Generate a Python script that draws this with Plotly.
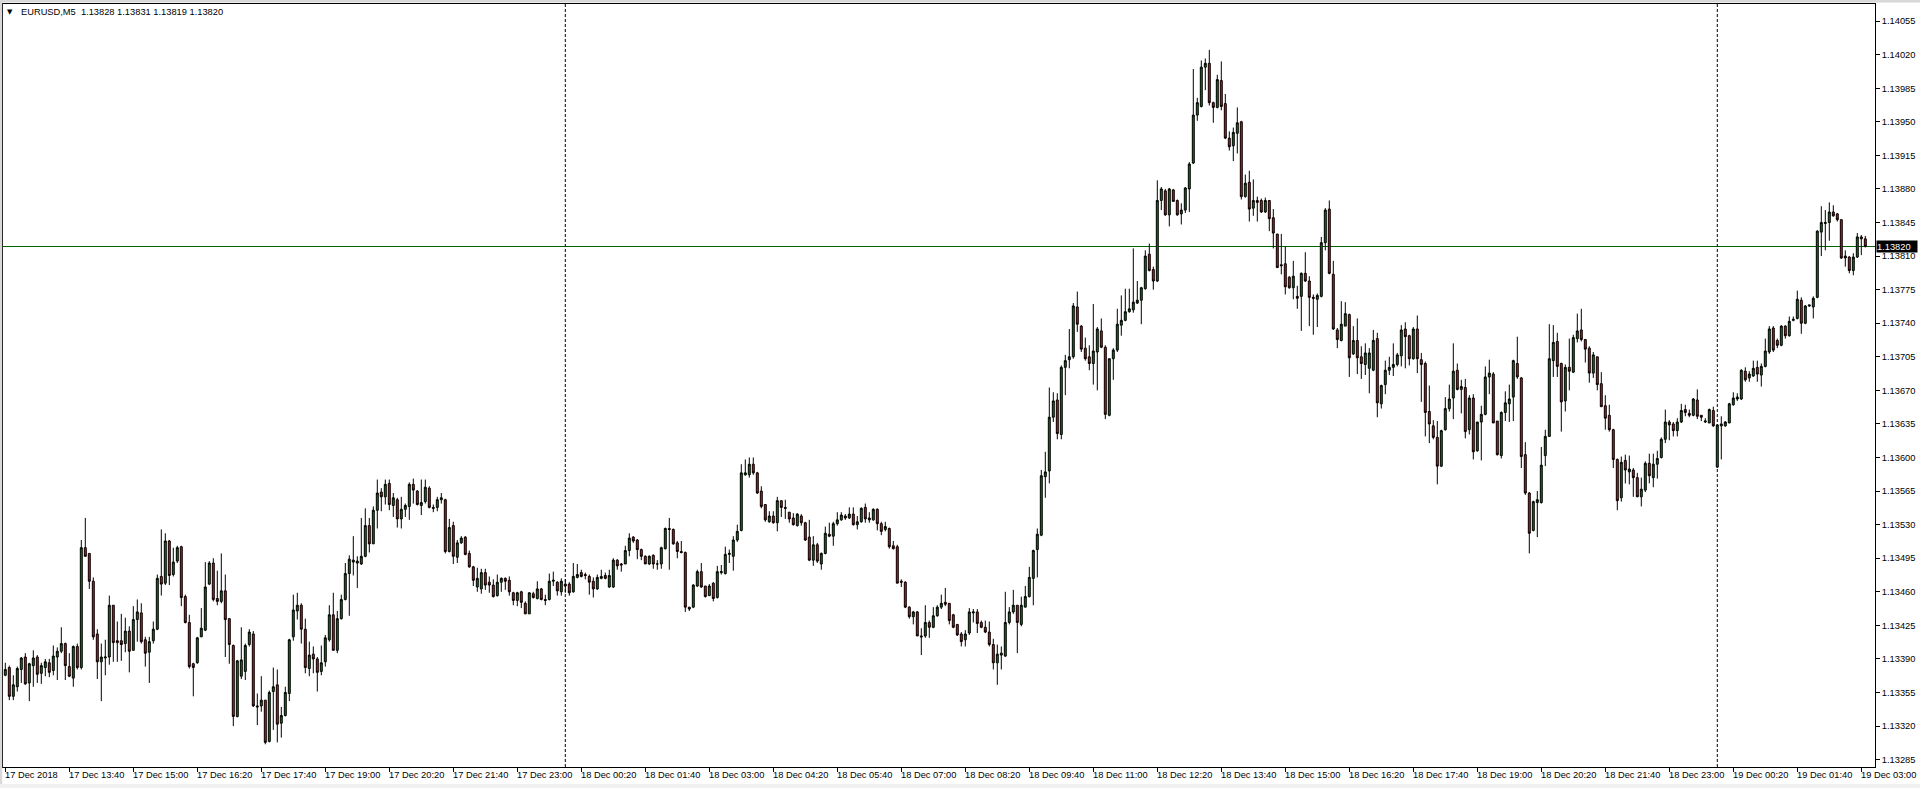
import pandas as pd
import plotly.graph_objects as go

# ---------------- data (prices stored in points of 0.00001 above PRICE_BASE) ----------------
SYMBOL_TITLE = "EURUSD,M5  1.13828 1.13831 1.13819 1.13820"
PRICE_BASE = 1.13
POINT = 0.00001
START_TIME = "2018-12-17 12:20"
BAR_MINUTES = 5

OPEN_PTS = [
    373,381,351,361,379,392,365,383,392,375,381,386,378,392,398,406,382,370,403,381,
    506,500,471,416,387,391,392,446,409,409,406,419,399,431,438,410,397,409,421,476,
    469,513,478,492,507,455,428,385,386,413,420,468,490,453,450,461,432,404,330,372,
    377,405,416,341,341,347,304,356,363,323,331,354,413,440,446,421,380,395,390,377,
    387,410,436,399,432,452,479,491,492,489,497,529,510,545,564,559,573,550,556,536,
    546,549,572,565,550,554,568,548,548,556,556,502,529,496,511,517,500,486,465,463,
    480,470,467,456,470,474,472,459,451,460,448,437,458,453,463,452,452,471,470,460,
    468,468,460,475,480,478,476,471,463,474,477,465,465,493,489,489,503,517,514,504,
    497,489,498,489,489,505,526,525,511,502,501,444,444,466,481,466,456,469,454,480,
    479,499,497,514,524,582,582,593,584,565,551,533,539,532,555,548,543,537,529,539,
    532,517,493,509,489,500,520,518,531,535,539,537,541,530,533,548,537,535,546,531,
    525,526,508,507,471,470,444,434,439,414,414,428,423,435,444,449,448,436,426,416,
    410,417,438,439,428,423,418,405,386,394,393,428,439,446,426,444,455,474,504,519,
    580,586,642,660,624,694,702,705,757,737,714,705,698,710,732,715,644,703,712,738,
    743,752,754,761,764,776,812,796,784,868,878,853,879,868,854,858,880,907,957,966,
    1007,1011,970,965,993,969,933,925,938,950,872,887,860,868,868,856,868,850,833,801,
    802,788,777,768,768,792,784,767,765,768,824,859,791,733,722,737,749,708,722,705,
    697,693,691,724,656,676,691,694,697,706,734,727,703,734,702,698,648,633,621,591,
    629,651,662,691,671,673,629,662,607,637,645,684,687,638,602,647,656,663,698,683,
    603,563,524,553,553,602,622,701,721,698,659,694,689,724,733,723,714,688,705,677,
    654,644,629,598,558,597,585,587,579,559,566,594,579,593,600,619,637,635,628,637,
    650,646,644,660,644,637,636,649,590,633,633,636,655,661,661,690,683,685,694,686,
    695,710,735,722,717,737,727,743,745,764,740,758,757,767,835,844,845,856,854,848,
    810,809,795,809,830,828,
]
HIGH_PTS = [
    386,383,373,382,392,396,386,399,394,386,390,390,404,402,423,407,396,404,406,514,
    537,500,475,421,406,410,456,446,429,437,433,424,445,452,448,413,413,429,478,525,
    521,514,506,508,508,457,436,386,413,443,491,492,495,482,500,478,432,405,389,423,
    406,421,419,354,372,347,357,381,379,340,361,411,457,459,448,432,408,403,392,404,
    415,446,459,440,457,490,498,518,497,537,547,537,549,577,568,577,577,563,558,559,
    552,574,578,566,577,577,570,551,559,563,557,536,533,514,518,518,503,487,485,484,
    484,476,473,478,475,475,476,460,460,461,450,459,460,471,464,457,479,481,471,474,
    473,470,490,489,483,480,478,475,478,483,480,483,495,494,490,508,521,518,515,505,
    498,498,499,493,507,527,537,526,513,513,502,444,468,483,490,466,468,470,487,488,
    507,504,518,530,593,598,600,600,585,570,551,544,544,559,555,556,543,542,542,541,
    533,535,518,511,501,528,532,533,543,543,541,548,548,539,548,552,543,547,547,533,
    533,527,513,509,473,471,445,440,440,422,446,430,444,446,457,464,448,437,426,418,
    420,443,442,442,430,430,429,411,405,403,460,444,462,446,455,466,486,504,526,587,
    606,673,668,667,696,707,734,761,773,738,725,717,760,736,745,717,703,714,755,769,
    776,776,818,784,778,816,823,799,889,882,880,881,880,869,865,882,908,1005,975,1014,
    1016,1025,971,999,1013,979,940,944,965,951,895,899,890,872,870,871,868,859,833,833,
    820,789,805,779,793,814,789,770,771,830,860,868,805,735,763,762,750,737,745,716,
    719,714,733,730,676,701,705,719,709,738,741,728,736,748,709,700,675,639,638,629,
    663,676,719,698,681,682,665,666,637,654,695,702,689,638,648,669,676,702,726,684,
    616,564,555,565,611,629,739,738,730,699,697,724,728,750,755,723,716,710,705,689,
    665,655,630,599,601,603,602,589,584,579,596,604,604,607,621,650,639,637,641,656,
    655,650,662,671,644,641,651,653,634,643,638,657,668,667,692,694,690,701,701,698,
    724,737,737,724,738,738,747,747,774,767,759,759,768,837,862,858,866,863,855,848,
    816,810,813,834,832,831,
]
LOW_PTS = [
    372,347,347,356,365,363,346,361,365,364,372,371,373,368,396,368,371,361,379,379,
    497,463,410,369,346,373,384,387,387,388,397,376,399,408,406,382,365,406,420,456,
    467,467,476,490,445,427,380,351,385,413,419,467,450,446,448,392,385,320,329,369,
    368,403,340,321,335,301,303,316,303,308,330,346,409,431,406,375,372,375,356,373,
    382,408,399,396,431,451,435,477,464,488,496,501,510,526,544,551,545,538,527,526,
    538,535,552,550,540,552,547,543,544,552,500,501,489,490,510,498,485,466,460,458,
    462,459,454,455,460,462,456,446,445,443,437,437,453,452,451,446,451,466,456,456,
    459,456,459,474,475,473,457,454,462,473,473,464,464,483,481,489,497,511,494,493,
    489,488,484,483,484,504,483,509,495,500,439,440,443,465,464,454,456,450,453,478,
    478,490,482,512,523,581,579,582,562,547,533,532,531,523,538,536,532,529,528,529,
    513,492,487,490,483,499,517,508,529,534,535,536,529,525,532,532,532,534,524,519,
    523,505,504,469,465,443,432,426,414,394,412,412,422,434,442,445,426,422,414,403,
    403,415,428,417,422,417,403,379,363,379,392,426,437,396,424,444,454,446,475,518,
    558,573,637,619,619,665,693,703,731,710,701,691,676,670,714,640,643,681,710,727,
    742,751,751,760,739,775,794,775,783,858,852,841,867,852,843,855,856,906,951,965,
    983,967,949,964,962,932,920,909,917,869,871,846,852,846,855,855,836,818,798,791,
    770,776,765,755,732,783,737,728,736,767,816,791,733,714,721,737,684,707,687,682,
    686,667,690,642,651,666,686,685,695,695,693,696,702,688,658,622,615,619,572,590,
    628,648,640,670,646,620,624,598,606,597,644,666,636,602,599,638,637,638,682,589,
    561,500,523,517,552,591,622,684,684,627,648,670,688,720,721,699,678,683,670,653,
    629,627,589,545,554,573,572,559,559,549,564,573,569,578,599,615,618,622,622,636,
    643,642,643,640,638,636,636,632,589,598,632,636,654,659,660,679,679,684,679,674,
    694,708,710,714,716,724,726,742,744,729,739,757,745,766,810,816,826,851,846,807,
    799,792,790,808,811,819,
]
CLOSE_PTS = [
    379,351,363,380,391,364,385,391,374,383,387,376,393,398,406,383,372,403,381,506,
    497,471,413,387,392,392,446,407,407,405,419,398,431,439,408,396,408,421,474,468,
    513,477,491,506,454,428,382,381,412,422,465,490,452,450,461,431,405,330,388,389,
    404,418,341,340,347,303,355,361,322,331,355,410,441,446,421,381,394,390,376,386,
    412,436,399,432,452,479,494,493,490,497,529,510,545,563,559,572,551,558,536,546,
    550,572,566,551,553,569,548,547,556,558,502,527,497,511,516,499,486,472,474,480,
    467,467,455,470,474,471,460,451,459,449,437,459,454,463,452,451,471,472,461,471,
    466,459,476,478,476,477,470,463,475,476,474,477,493,487,488,503,516,513,504,497,
    489,497,489,489,506,526,525,510,502,501,444,442,467,481,465,455,466,453,481,481,
    499,500,514,523,584,584,593,584,563,549,535,539,532,555,548,547,536,530,541,532,
    514,493,509,492,500,521,518,531,535,540,537,541,530,533,547,536,535,546,531,523,
    528,507,505,469,470,444,434,439,414,413,428,423,435,444,448,447,430,423,415,408,
    416,439,439,427,423,418,405,386,395,396,428,439,446,428,446,455,475,503,520,581,
    585,642,659,625,694,701,705,758,739,713,703,698,711,734,715,645,703,712,739,743,
    752,755,762,764,777,810,795,784,868,880,853,880,867,853,858,881,906,957,970,1007,
    1011,970,965,994,966,933,924,939,949,872,886,859,868,866,856,868,849,834,798,800,
    778,777,789,766,792,784,767,766,769,824,858,792,734,723,739,750,704,722,704,698,
    709,709,722,657,675,691,694,697,707,733,726,703,734,703,697,647,635,621,591,628,
    651,661,690,671,674,627,662,606,637,645,684,688,636,603,647,657,661,701,684,601,
    563,521,554,556,592,622,703,720,695,658,694,690,725,732,723,713,688,707,676,653,
    641,629,598,555,595,587,588,579,559,567,594,581,593,599,619,637,634,628,637,649,
    647,644,661,643,642,638,650,633,634,635,637,656,662,663,691,681,687,693,687,695,
    711,734,712,717,737,727,742,744,765,740,758,759,766,836,845,845,856,852,848,808,
    808,795,809,830,828,820,
]

TICK_LABELS = [
    "17 Dec 2018", "17 Dec 13:40", "17 Dec 15:00", "17 Dec 16:20", "17 Dec 17:40",
    "17 Dec 19:00", "17 Dec 20:20", "17 Dec 21:40", "17 Dec 23:00", "18 Dec 00:20",
    "18 Dec 01:40", "18 Dec 03:00", "18 Dec 04:20", "18 Dec 05:40", "18 Dec 07:00",
    "18 Dec 08:20", "18 Dec 09:40", "18 Dec 11:00", "18 Dec 12:20", "18 Dec 13:40",
    "18 Dec 15:00", "18 Dec 16:20", "18 Dec 17:40", "18 Dec 19:00", "18 Dec 20:20",
    "18 Dec 21:40", "18 Dec 23:00", "19 Dec 00:20", "19 Dec 01:40", "19 Dec 03:00",
]
TICK_EVERY_BARS = 16
PRICE_TICKS = [
    1.13285, 1.13320, 1.13355, 1.13390, 1.13425, 1.13460, 1.13495, 1.13530,
    1.13565, 1.13600, 1.13635, 1.13670, 1.13705, 1.13740, 1.13775, 1.13810,
    1.13845, 1.13880, 1.13915, 1.13950, 1.13985, 1.14020, 1.14055,
]
BID_PRICE = 1.13820

N = len(CLOSE_PTS)
assert len(OPEN_PTS) == N and len(HIGH_PTS) == N and len(LOW_PTS) == N, (
    len(OPEN_PTS), len(HIGH_PTS), len(LOW_PTS), N)

to_price = lambda pts: [round(PRICE_BASE + p * POINT, 5) for p in pts]
opens, highs, lows, closes = map(to_price, (OPEN_PTS, HIGH_PTS, LOW_PTS, CLOSE_PTS))
times = pd.date_range(START_TIME, periods=N, freq=f"{BAR_MINUTES}min")
bars = list(range(N))

# ---------------- geometry ----------------
W, H = 1920, 788
ML, MR, MT, MB = 3, 45, 4, 21
PW, PH = W - ML - MR, H - MT - MB
PX_PER_BAR = 4.0
FIRST_BAR_PX = 2.3
x_lo = -FIRST_BAR_PX / PX_PER_BAR
x_hi = x_lo + PW / PX_PER_BAR
PX_PER_PRICE = 95914.0
y_hi = 1.1407283
y_lo = y_hi - PH / PX_PER_PRICE

FONT = "Liberation Sans, Arial, sans-serif"
FS = 9.3

fig = go.Figure()
fig.add_trace(go.Candlestick(
    x=bars, open=opens, high=highs, low=lows, close=closes,
    increasing=dict(fillcolor="#008000", line=dict(color="black", width=1)),
    decreasing=dict(fillcolor="#ff0000", line=dict(color="black", width=1)),
    whiskerwidth=0, hoverinfo="skip", showlegend=False,
))

shapes = []
# bid line
shapes.append(dict(type="line", xref="paper", yref="y", x0=0, x1=1, y0=BID_PRICE, y1=BID_PRICE,
                   line=dict(color="#006400", width=1), layer="below"))
# period separators (midnights)
for i, t in enumerate(times):
    if t.hour == 0 and t.minute == 0:
        shapes.append(dict(type="line", xref="x", yref="paper", x0=i, x1=i, y0=0, y1=1,
                           line=dict(color="black", width=1, dash="3px,2px"), layer="below"))

def px_x(px):
    return (px - ML) / PW

def px_y(py):
    return (H - MB - py) / PH

# window frame (light grey edges)
FRAME = "#d8d8d8"
shapes.append(dict(type="rect", xref="paper", yref="paper", x0=px_x(0), x1=px_x(W), y0=px_y(2.5), y1=px_y(0),
                   fillcolor=FRAME, line=dict(width=0), layer="above"))
shapes.append(dict(type="rect", xref="paper", yref="paper", x0=px_x(0), x1=px_x(2.2), y0=px_y(H), y1=px_y(0),
                   fillcolor=FRAME, line=dict(width=0), layer="above"))
shapes.append(dict(type="rect", xref="paper", yref="paper", x0=px_x(0), x1=px_x(W), y0=px_y(H), y1=px_y(H - 4),
                   fillcolor="#f0f0f0", line=dict(width=0), layer="above"))

annotations = []
tick_bars = [k * TICK_EVERY_BARS for k in range(len(TICK_LABELS))]
for b, lab in zip(tick_bars, TICK_LABELS):
    annotations.append(dict(x=b, xref="x", y=0, yref="paper", text=lab, showarrow=False,
                            xanchor="left", yanchor="top", xshift=-2, yshift=-1,
                            font=dict(family=FONT, size=FS, color="black")))
# title
annotations.append(dict(x=px_x(9.5), xref="paper", y=1, yref="paper", text="▼", showarrow=False,
                        xanchor="center", yanchor="top", yshift=-2,
                        font=dict(family="DejaVu Sans", size=7, color="black")))
annotations.append(dict(x=px_x(19), xref="paper", y=1, yref="paper", text=SYMBOL_TITLE, showarrow=False,
                        xanchor="left", yanchor="top", yshift=-1,
                        font=dict(family=FONT, size=FS, color="black")))
# current price tag
annotations.append(dict(x=1, xref="paper", y=BID_PRICE, yref="y", text=f"{BID_PRICE:.5f}", showarrow=False,
                        xanchor="left", yanchor="middle", xshift=1, bgcolor="black", borderpad=0,
                        width=40, height=11, align="left",
                        font=dict(family=FONT, size=FS, color="white")))

fig.update_layout(
    width=W, height=H,
    margin=dict(l=ML, r=MR, t=MT, b=MB, pad=0),
    paper_bgcolor="white", plot_bgcolor="white",
    showlegend=False, hovermode=False,
    shapes=shapes, annotations=annotations,
    xaxis=dict(range=[x_lo, x_hi], rangeslider=dict(visible=False), showgrid=False, zeroline=False,
               tickvals=tick_bars, showticklabels=False, ticks="outside", ticklen=4,
               tickcolor="black", tickwidth=1, showline=True, linecolor="black", linewidth=1,
               mirror=True, automargin=False, fixedrange=True),
    yaxis=dict(range=[y_lo, y_hi], side="right", showgrid=False, zeroline=False,
               tickvals=PRICE_TICKS, ticktext=[f"{v:.5f}" for v in PRICE_TICKS],
               ticks="outside", ticklen=4, tickcolor="black", tickwidth=1,
               tickfont=dict(family=FONT, size=FS, color="black"),
               showline=True, linecolor="black", linewidth=1, mirror=True,
               automargin=False, fixedrange=True),
)

fig.write_html(
    "out.html",
    config={"displayModeBar": False},
    post_script="document.body.style.margin='0px';document.body.style.overflow='hidden';",
)
